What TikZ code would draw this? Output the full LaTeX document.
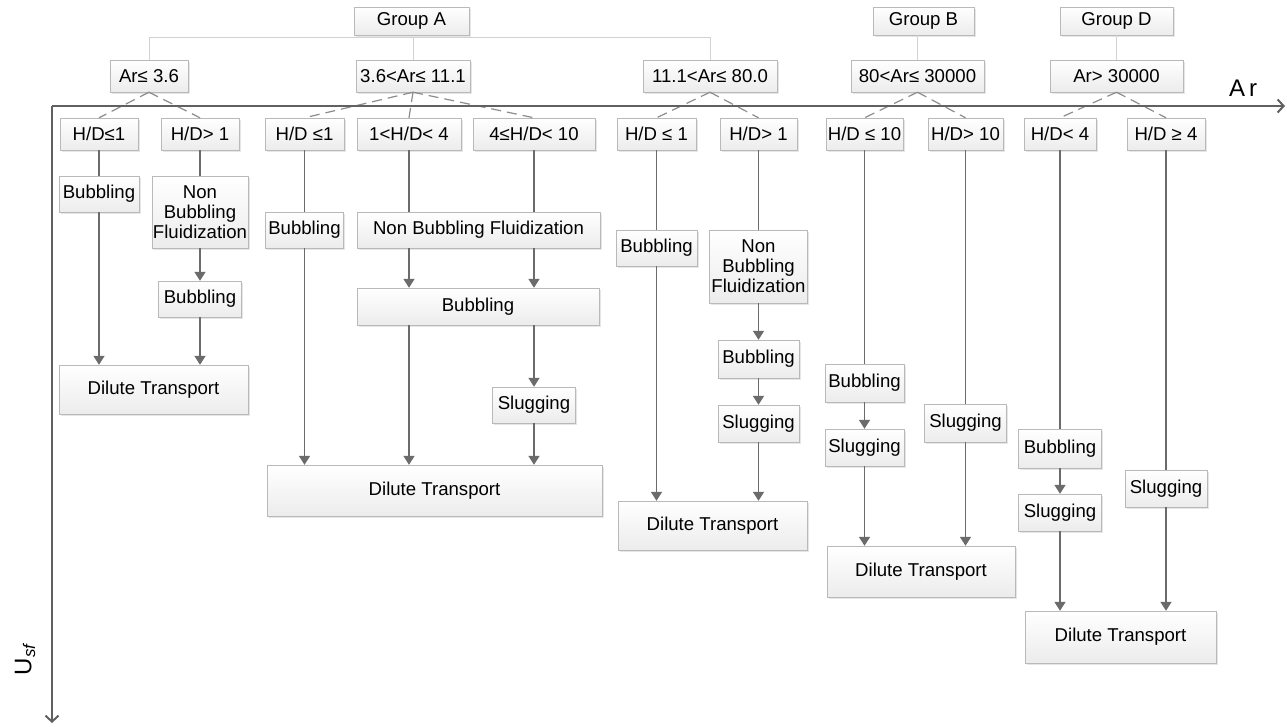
\documentclass[tikz,border=0pt]{standalone}
\usepackage{fontspec}
\setmainfont{Liberation Sans}
\usetikzlibrary{arrows.meta,shadows}
\tikzstyle{box} = [draw=gray!55, top color=white, bottom color=gray!15, drop shadow={opacity=0.2,shadow xshift=1.5pt,shadow yshift=-1.5pt}, inner sep=1pt, align=center, font=\fontsize{18.6}{20}\selectfont, minimum height=32pt]
\tikzstyle{feed} = [line width=1.6pt, black!58]
\tikzstyle{flow} = [line width=1.6pt, black!58, -{Triangle[width=11pt,length=9pt]}]
\tikzstyle{split} = [line width=1.2pt, black!45, dash pattern=on 10pt off 6pt]
\tikzstyle{grouplink} = [line width=0.8pt, gray!35]
\tikzstyle{axisline} = [line width=2pt, black!62, -{Straight Barb[length=6pt,width=13pt]}]

\begin{document}
\begin{tikzpicture}[x=1pt,y=-1pt]
\useasboundingbox (0,0) rectangle (1287,726);

\node[box, minimum width=115pt, minimum height=28pt] (ga) at (411.5,21) {Group A};
\node[box, minimum width=101pt, minimum height=28pt] (gb) at (923.5,21) {Group B};
\node[box, minimum width=113pt, minimum height=28pt] (gd) at (1116.5,21) {Group D};

\node[box, minimum width=78pt] (ar1) at (149,76) {Ar≤ 3.6};
\node[box, minimum width=114pt] (ar2) at (413,76) {3.6<Ar≤ 11.1};
\node[box, minimum width=134pt] (ar3) at (710,76) {11.1<Ar≤ 80.0};
\node[box, minimum width=133pt] (ar4) at (917.5,76) {80<Ar≤ 30000};
\node[box, minimum width=133pt] (ar5) at (1116.5,76) {Ar> 30000};

\node[box, minimum width=78pt] (hd1) at (99,134) {H/D≤1};
\node[box, minimum width=78pt] (hd2) at (200,134) {H/D> 1};
\node[box, minimum width=79pt] (hd3) at (304.5,134) {H/D ≤1};
\node[box, minimum width=104pt] (hd4) at (409,134) {1<H/D< 4};
\node[box, minimum width=122pt] (hd5) at (534,134) {4≤H/D< 10};
\node[box, minimum width=79pt] (hd6) at (656.5,134) {H/D ≤ 1};
\node[box, minimum width=77pt] (hd7) at (758.5,134) {H/D> 1};
\node[box, minimum width=77pt] (hd8) at (864.5,134) {H/D ≤ 10};
\node[box, minimum width=75pt] (hd9) at (965.5,134) {H/D> 10};
\node[box, minimum width=72pt] (hd10) at (1060,134) {H/D< 4};
\node[box, minimum width=78pt] (hd11) at (1166,134) {H/D ≥ 4};

\node[box, minimum width=80pt, minimum height=36pt] (b1) at (99,194) {Bubbling};
\node[box, minimum width=96pt, minimum height=72pt] (nb1) at (200,212) {Non\\Bubbling\\Fluidization};
\node[box, minimum width=83pt, minimum height=36pt] (b2) at (200,299) {Bubbling};
\node[box, minimum width=189pt, minimum height=49pt] (dt1) at (153.5,389.5) {Dilute Transport};

\node[box, minimum width=78pt, minimum height=36pt] (b3) at (304.5,230) {Bubbling};
\node[box, minimum width=243pt, minimum height=36pt] (nb2) at (478.5,230) {Non Bubbling Fluidization};
\node[box, minimum width=242pt, minimum height=37pt] (b4) at (478,306.5) {Bubbling};
\node[box, minimum width=83pt, minimum height=36pt] (s1) at (534,405) {Slugging};
\node[box, minimum width=335pt, minimum height=51pt] (dt2) at (434.5,490.5) {Dilute Transport};

\node[box, minimum width=81pt, minimum height=36pt] (b5) at (656.5,248) {Bubbling};
\node[box, minimum width=98pt, minimum height=73pt] (nb3) at (758.5,266.5) {Non\\Bubbling\\Fluidization};
\node[box, minimum width=81pt, minimum height=38pt] (b6) at (758.5,359) {Bubbling};
\node[box, minimum width=81pt, minimum height=37pt] (s2) at (758.5,423.5) {Slugging};
\node[box, minimum width=189pt, minimum height=49pt] (dt3) at (712.5,525.5) {Dilute Transport};

\node[box, minimum width=79pt, minimum height=38pt] (b7) at (864.5,383) {Bubbling};
\node[box, minimum width=79pt, minimum height=37pt] (s3) at (864.5,447.5) {Slugging};
\node[box, minimum width=82pt, minimum height=38pt] (s4) at (965.5,423) {Slugging};
\node[box, minimum width=188pt, minimum height=51pt] (dt4) at (921,571.5) {Dilute Transport};

\node[box, minimum width=83pt, minimum height=39pt] (b8) at (1060,448.5) {Bubbling};
\node[box, minimum width=83pt, minimum height=37pt] (s5) at (1060,512.5) {Slugging};
\node[box, minimum width=82pt, minimum height=37pt] (s6) at (1166,488.5) {Slugging};
\node[box, minimum width=191pt, minimum height=52pt] (dt5) at (1120.5,637) {Dilute Transport};

\coordinate (gbar) at ([yshift=-2pt]ga.south);
\draw[grouplink] (ar1.north) |- (ar3.north |- gbar) -- (ar3.north);
\draw[grouplink] (ar2.north) -- (ar2.north |- gbar);
\draw[grouplink] (ar4.north) -- (ar4.north |- gb.south);
\draw[grouplink] (ar5.north) -- (ar5.north |- gd.south);

\foreach \p/\c in {ar1/hd1, ar1/hd2, ar2/hd3, ar2/hd4, ar2/hd5, ar3/hd6, ar3/hd7, ar4/hd8, ar4/hd9, ar5/hd10, ar5/hd11}
  \draw[split] (\p.south) -- (\c.north);

\draw[feed] (hd1) -- (b1);
\draw[flow] (b1) -- (b1 |- dt1.north);
\draw[feed] (hd2) -- (nb1);
\draw[flow] (nb1) -- (b2);
\draw[flow] (b2) -- (b2 |- dt1.north);

\draw[feed] (hd3) -- (b3);
\draw[flow] (b3) -- (b3 |- dt2.north);
\draw[feed] (hd4) -- (hd4 |- nb2.north);
\draw[flow] (hd4 |- nb2.south) -- (hd4 |- b4.north);
\draw[flow] (hd4 |- b4.south) -- (hd4 |- dt2.north);
\draw[feed] (hd5) -- (hd5 |- nb2.north);
\draw[flow] (hd5 |- nb2.south) -- (hd5 |- b4.north);
\draw[flow] (hd5 |- b4.south) -- (s1);
\draw[flow] (s1) -- (s1 |- dt2.north);

\draw[feed] (hd6) -- (b5);
\draw[flow] (b5) -- (b5 |- dt3.north);
\draw[feed] (hd7) -- (nb3);
\draw[flow] (nb3) -- (b6);
\draw[flow] (b6) -- (s2);
\draw[flow] (s2) -- (s2 |- dt3.north);

\draw[feed] (hd8) -- (b7);
\draw[flow] (b7) -- (s3);
\draw[flow] (s3) -- (s3 |- dt4.north);
\draw[feed] (hd9) -- (s4);
\draw[flow] (s4) -- (s4 |- dt4.north);

\draw[feed] (hd10) -- (b8);
\draw[flow] (b8) -- (s5);
\draw[flow] (s5) -- (s5 |- dt5.north);
\draw[feed] (hd11) -- (s6);
\draw[flow] (s6) -- (s6 |- dt5.north);

\coordinate (org) at (52,106);
\coordinate (xend) at (1285,106);
\coordinate (yend) at (52,723);
\draw[axisline] (org) -- (xend);
\draw[axisline] (org) -- (yend);
\node[font=\fontsize{24}{26}\selectfont] (xlab) at (1243,88) {A\,r};
\node[rotate=90, font=\fontsize{24}{26}\selectfont] (ylab) at (25,659) {U\textsubscript{\textit{sf}}};

\end{tikzpicture}
\end{document}
